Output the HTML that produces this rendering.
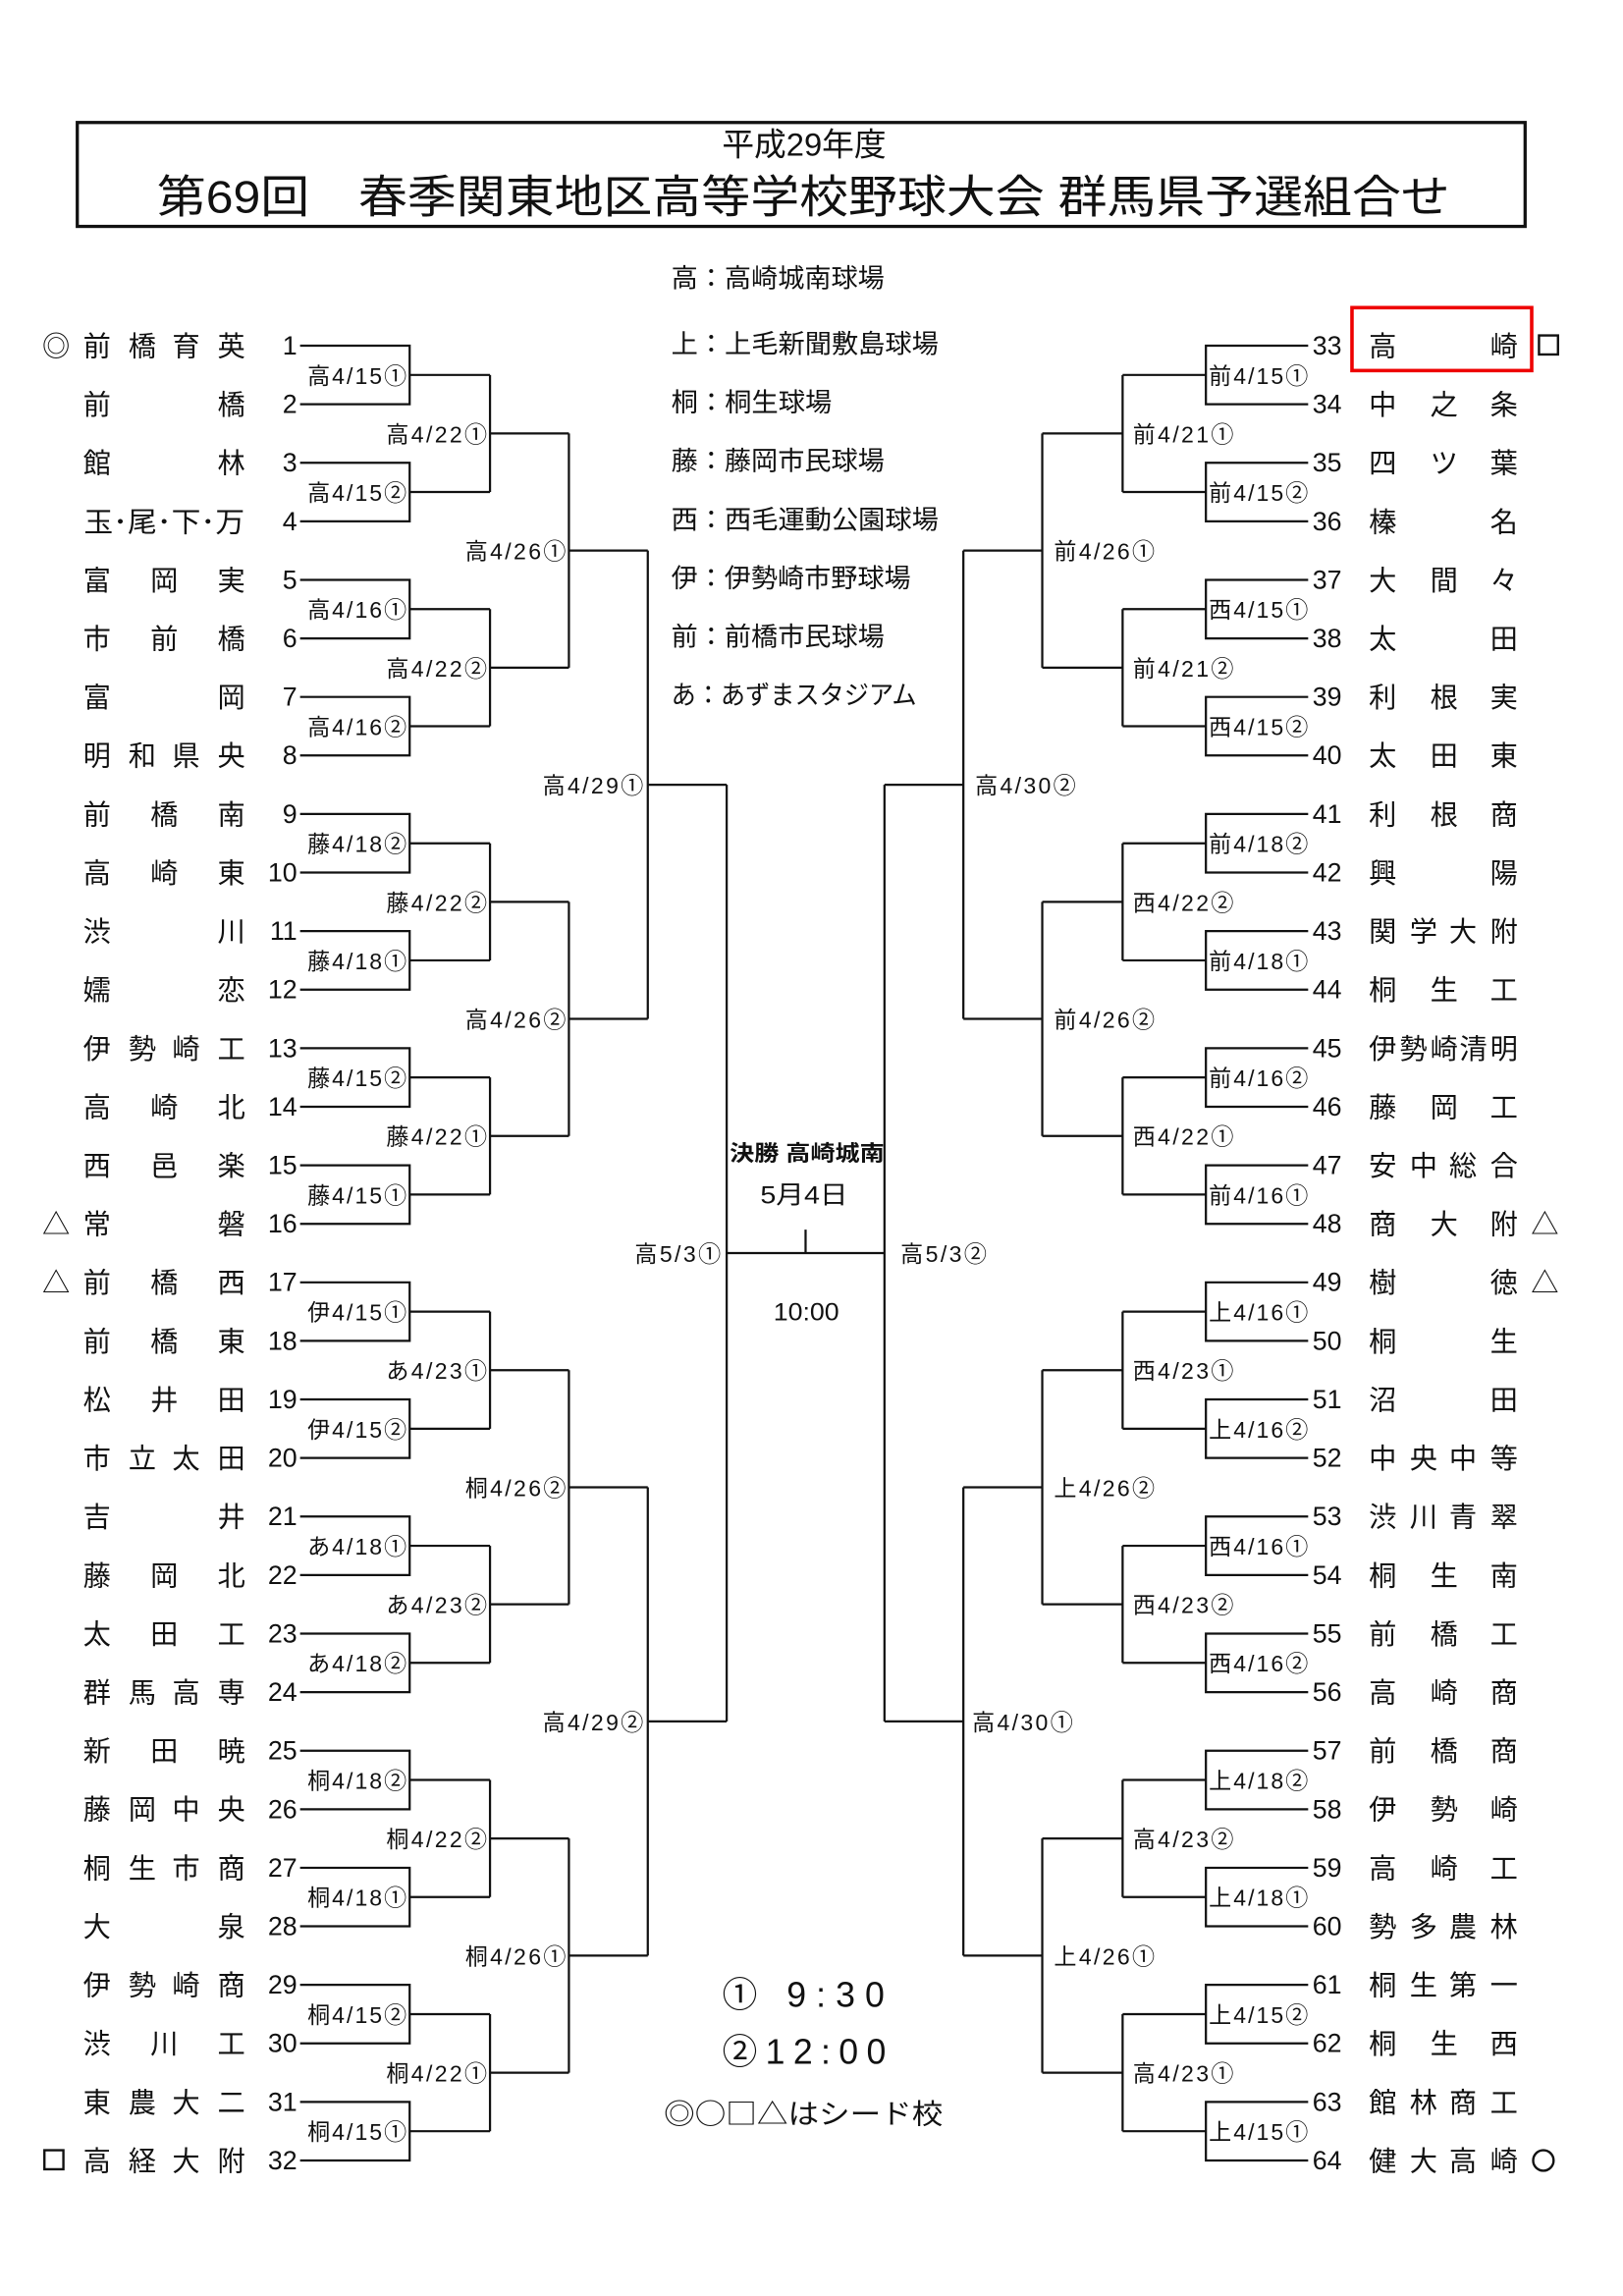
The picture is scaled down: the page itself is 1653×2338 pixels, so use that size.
<!DOCTYPE html>
<html><head><meta charset="utf-8"><style>
html,body{margin:0;padding:0;background:#fff}
svg{display:block}
text{font-family:"Liberation Sans","Noto Sans CJK JP",sans-serif;fill:#111}
.nm{font-size:19px}
.mk{font-family:"Noto Sans CJK JP",sans-serif;font-size:19px}
.no{font-size:18px}
.lb{font-size:15.5px}
.vn{font-size:18px}
</style></head><body>
<svg width="1653" height="2338" viewBox="-2.4 -0.2 1110.9 1568.8" preserveAspectRatio="none" xmlns="http://www.w3.org/2000/svg">
<rect x="50.5" y="83.5" width="991" height="71" fill="none" stroke="#111" stroke-width="2.2"/>
<text x="548" y="106" text-anchor="middle" style="font-size:22px">平成29年度</text>
<text x="105" y="145" textLength="885" lengthAdjust="spacingAndGlyphs" style="font-size:31px">第69回　春季関東地区高等学校野球大会 群馬県予選組合せ</text>

<g>
<text x="457" y="196" class="vn" textLength="146" lengthAdjust="spacingAndGlyphs">高：高崎城南球場</text>
<text x="457" y="241" class="vn" textLength="183" lengthAdjust="spacingAndGlyphs">上：上毛新聞敷島球場</text>
<text x="457" y="281" class="vn" textLength="110" lengthAdjust="spacingAndGlyphs">桐：桐生球場</text>
<text x="457" y="321" class="vn" textLength="146" lengthAdjust="spacingAndGlyphs">藤：藤岡市民球場</text>
<text x="457" y="361" class="vn" textLength="183" lengthAdjust="spacingAndGlyphs">西：西毛運動公園球場</text>
<text x="457" y="401" class="vn" textLength="164" lengthAdjust="spacingAndGlyphs">伊：伊勢崎市野球場</text>
<text x="457" y="441" class="vn" textLength="146" lengthAdjust="spacingAndGlyphs">前：前橋市民球場</text>
<text x="457" y="481" class="vn" textLength="168" lengthAdjust="spacingAndGlyphs">あ：あずまスタジアム</text>
</g>

<g fill="none" stroke="#111" stroke-width="1.5">
<path d="M203 236H278V276H203M278 256H333M203 316H278V356H203M278 336H333M203 396H278V436H203M278 416H333M203 476H278V516H203M278 496H333M203 556H278V596H203M278 576H333M203 636H278V676H203M278 656H333M203 716H278V756H203M278 736H333M203 796H278V836H203M278 816H333M203 876H278V916H203M278 896H333M203 956H278V996H203M278 976H333M203 1036H278V1076H203M278 1056H333M203 1116H278V1156H203M278 1136H333M203 1196H278V1236H203M278 1216H333M203 1276H278V1316H203M278 1296H333M203 1356H278V1396H203M278 1376H333M203 1436H278V1476H203M278 1456H333"/>
<path d="M333 256V336M333 296H387M333 416V496M333 456H387M333 576V656M333 616H387M333 736V816M333 776H387M333 896V976M333 936H387M333 1056V1136M333 1096H387M333 1216V1296M333 1256H387M333 1376V1456M333 1416H387"/>
<path d="M387 296V456M387 376H441M387 616V776M387 696H441M387 936V1096M387 1016H441M387 1256V1416M387 1336H441"/>
<path d="M441 376V696M441 536H495M441 1016V1336M441 1176H495M495 536V1176M495 856H603M549 840V856"/>
<path d="M893 236H823V276H893M823 256H766M893 316H823V356H893M823 336H766M893 396H823V436H893M823 416H766M893 476H823V516H893M823 496H766M893 556H823V596H893M823 576H766M893 636H823V676H893M823 656H766M893 716H823V756H893M823 736H766M893 796H823V836H893M823 816H766M893 876H823V916H893M823 896H766M893 956H823V996H893M823 976H766M893 1036H823V1076H893M823 1056H766M893 1116H823V1156H893M823 1136H766M893 1196H823V1236H893M823 1216H766M893 1276H823V1316H893M823 1296H766M893 1356H823V1396H893M823 1376H766M893 1436H823V1476H893M823 1456H766"/>
<path d="M766 256V336M766 296H711M766 416V496M766 456H711M766 576V656M766 616H711M766 736V816M766 776H711M766 896V976M766 936H711M766 1056V1136M766 1096H711M766 1216V1296M766 1256H711M766 1376V1456M766 1416H711"/>
<path d="M711 296V456M711 376H657M711 616V776M711 696H657M711 936V1096M711 1016H657M711 1256V1416M711 1336H657"/>
<path d="M657 376V696M657 536H603M657 1016V1336M657 1176H603M603 536V1176"/>
</g>
<rect x="923" y="210" width="123" height="43" fill="none" stroke="#e00" stroke-width="2.4"/>

<!-- left names -->
<g class="nm" text-anchor="middle">
<text x="64 95 125 156" y="243">前橋育英</text>
<text x="64 156" y="283">前橋</text>
<text x="64 156" y="323">館林</text>
<text x="55" y="363" text-anchor="start" textLength="110" lengthAdjust="spacingAndGlyphs">玉･尾･下･万</text>
<text x="64 110 156" y="403">富岡実</text>
<text x="64 110 156" y="443">市前橋</text>
<text x="64 156" y="483">富岡</text>
<text x="64 95 125 156" y="523">明和県央</text>
<text x="64 110 156" y="563">前橋南</text>
<text x="64 110 156" y="603">高崎東</text>
<text x="64 156" y="643">渋川</text>
<text x="64 156" y="683">嬬恋</text>
<text x="64 95 125 156" y="723">伊勢崎工</text>
<text x="64 110 156" y="763">高崎北</text>
<text x="64 110 156" y="803">西邑楽</text>
<text x="64 156" y="843">常磐</text>
<text x="64 110 156" y="883">前橋西</text>
<text x="64 110 156" y="923">前橋東</text>
<text x="64 110 156" y="963">松井田</text>
<text x="64 95 125 156" y="1003">市立太田</text>
<text x="64 156" y="1043">吉井</text>
<text x="64 110 156" y="1083">藤岡北</text>
<text x="64 110 156" y="1123">太田工</text>
<text x="64 95 125 156" y="1163">群馬高専</text>
<text x="64 110 156" y="1203">新田暁</text>
<text x="64 95 125 156" y="1243">藤岡中央</text>
<text x="64 95 125 156" y="1283">桐生市商</text>
<text x="64 156" y="1323">大泉</text>
<text x="64 95 125 156" y="1363">伊勢崎商</text>
<text x="64 110 156" y="1403">渋川工</text>
<text x="64 95 125 156" y="1443">東農大二</text>
<text x="64 95 125 156" y="1483">高経大附</text>
</g>
<g class="mk" text-anchor="middle">
<text x="36" y="243">◎</text>
<text x="36" y="843">△</text>
<text x="36" y="883">△</text>
<text x="1055" y="843">△</text>
<text x="1055" y="883">△</text>
</g>
<g fill="none" stroke="#111" stroke-width="1.6">
<rect x="28" y="1469" width="13" height="13"/>
<rect x="1051" y="229" width="13" height="13"/>
<circle cx="1054" cy="1476" r="7"/>
</g>
<!-- right names -->
<g class="nm" text-anchor="middle">
<text x="944 1027" y="243">高崎</text>
<text x="944 986 1027" y="283">中之条</text>
<text x="944 986 1027" y="323">四ツ葉</text>
<text x="944 1027" y="363">榛名</text>
<text x="944 986 1027" y="403">大間々</text>
<text x="944 1027" y="443">太田</text>
<text x="944 986 1027" y="483">利根実</text>
<text x="944 986 1027" y="523">太田東</text>
<text x="944 986 1027" y="563">利根商</text>
<text x="944 1027" y="603">興陽</text>
<text x="944 972 999 1027" y="643">関学大附</text>
<text x="944 986 1027" y="683">桐生工</text>
<text x="944 965 986 1006 1027" y="723">伊勢崎清明</text>
<text x="944 986 1027" y="763">藤岡工</text>
<text x="944 972 999 1027" y="803">安中総合</text>
<text x="944 986 1027" y="843">商大附</text>
<text x="944 1027" y="883">樹徳</text>
<text x="944 1027" y="923">桐生</text>
<text x="944 1027" y="963">沼田</text>
<text x="944 972 999 1027" y="1003">中央中等</text>
<text x="944 972 999 1027" y="1043">渋川青翠</text>
<text x="944 986 1027" y="1083">桐生南</text>
<text x="944 986 1027" y="1123">前橋工</text>
<text x="944 986 1027" y="1163">高崎商</text>
<text x="944 986 1027" y="1203">前橋商</text>
<text x="944 986 1027" y="1243">伊勢崎</text>
<text x="944 986 1027" y="1283">高崎工</text>
<text x="944 972 999 1027" y="1323">勢多農林</text>
<text x="944 972 999 1027" y="1363">桐生第一</text>
<text x="944 986 1027" y="1403">桐生西</text>
<text x="944 972 999 1027" y="1443">館林商工</text>
<text x="944 972 999 1027" y="1483">健大高崎</text>
</g>
<!-- numbers -->
<g class="no" text-anchor="end">
<text x="201" y="242">1</text><text x="201" y="282">2</text><text x="201" y="322">3</text><text x="201" y="362">4</text>
<text x="201" y="402">5</text><text x="201" y="442">6</text><text x="201" y="482">7</text><text x="201" y="522">8</text>
<text x="201" y="562">9</text><text x="201" y="602">10</text><text x="201" y="642">11</text><text x="201" y="682">12</text>
<text x="201" y="722">13</text><text x="201" y="762">14</text><text x="201" y="802">15</text><text x="201" y="842">16</text>
<text x="201" y="882">17</text><text x="201" y="922">18</text><text x="201" y="962">19</text><text x="201" y="1002">20</text>
<text x="201" y="1042">21</text><text x="201" y="1082">22</text><text x="201" y="1122">23</text><text x="201" y="1162">24</text>
<text x="201" y="1202">25</text><text x="201" y="1242">26</text><text x="201" y="1282">27</text><text x="201" y="1322">28</text>
<text x="201" y="1362">29</text><text x="201" y="1402">30</text><text x="201" y="1442">31</text><text x="201" y="1482">32</text>
</g>
<g class="no" text-anchor="start">
<text x="896" y="242">33</text><text x="896" y="282">34</text><text x="896" y="322">35</text><text x="896" y="362">36</text>
<text x="896" y="402">37</text><text x="896" y="442">38</text><text x="896" y="482">39</text><text x="896" y="522">40</text>
<text x="896" y="562">41</text><text x="896" y="602">42</text><text x="896" y="642">43</text><text x="896" y="682">44</text>
<text x="896" y="722">45</text><text x="896" y="762">46</text><text x="896" y="802">47</text><text x="896" y="842">48</text>
<text x="896" y="882">49</text><text x="896" y="922">50</text><text x="896" y="962">51</text><text x="896" y="1002">52</text>
<text x="896" y="1042">53</text><text x="896" y="1082">54</text><text x="896" y="1122">55</text><text x="896" y="1162">56</text>
<text x="896" y="1202">57</text><text x="896" y="1242">58</text><text x="896" y="1282">59</text><text x="896" y="1322">60</text>
<text x="896" y="1362">61</text><text x="896" y="1402">62</text><text x="896" y="1442">63</text><text x="896" y="1482">64</text>
</g>
<!-- left labels -->
<g class="lb" text-anchor="end">
<text x="276" y="262" textLength="68">高4/15①</text><text x="276" y="342" textLength="68">高4/15②</text><text x="276" y="422" textLength="68">高4/16①</text><text x="276" y="502" textLength="68">高4/16②</text>
<text x="276" y="582" textLength="68">藤4/18②</text><text x="276" y="662" textLength="68">藤4/18①</text><text x="276" y="742" textLength="68">藤4/15②</text><text x="276" y="822" textLength="68">藤4/15①</text>
<text x="276" y="902" textLength="68">伊4/15①</text><text x="276" y="982" textLength="68">伊4/15②</text><text x="276" y="1062" textLength="68">あ4/18①</text><text x="276" y="1142" textLength="68">あ4/18②</text>
<text x="276" y="1222" textLength="68">桐4/18②</text><text x="276" y="1302" textLength="68">桐4/18①</text><text x="276" y="1382" textLength="68">桐4/15②</text><text x="276" y="1462" textLength="68">桐4/15①</text>
<text x="331" y="302" textLength="69">高4/22①</text><text x="331" y="462" textLength="69">高4/22②</text><text x="331" y="622" textLength="69">藤4/22②</text><text x="331" y="782" textLength="69">藤4/22①</text>
<text x="331" y="942" textLength="69">あ4/23①</text><text x="331" y="1102" textLength="69">あ4/23②</text><text x="331" y="1262" textLength="69">桐4/22②</text><text x="331" y="1422" textLength="69">桐4/22①</text>
<text x="385" y="382" textLength="69">高4/26①</text><text x="385" y="702" textLength="69">高4/26②</text><text x="385" y="1022" textLength="69">桐4/26②</text><text x="385" y="1342" textLength="69">桐4/26①</text>
<text x="438" y="542" textLength="69">高4/29①</text><text x="438" y="1182" textLength="69">高4/29②</text>
<text x="491" y="862" textLength="59">高5/3①</text>
</g>
<g class="lb" text-anchor="start">
<text x="825" y="262" textLength="68">前4/15①</text><text x="825" y="342" textLength="68">前4/15②</text><text x="825" y="422" textLength="68">西4/15①</text><text x="825" y="502" textLength="68">西4/15②</text>
<text x="825" y="582" textLength="68">前4/18②</text><text x="825" y="662" textLength="68">前4/18①</text><text x="825" y="742" textLength="68">前4/16②</text><text x="825" y="822" textLength="68">前4/16①</text>
<text x="825" y="902" textLength="68">上4/16①</text><text x="825" y="982" textLength="68">上4/16②</text><text x="825" y="1062" textLength="68">西4/16①</text><text x="825" y="1142" textLength="68">西4/16②</text>
<text x="825" y="1222" textLength="68">上4/18②</text><text x="825" y="1302" textLength="68">上4/18①</text><text x="825" y="1382" textLength="68">上4/15②</text><text x="825" y="1462" textLength="68">上4/15①</text>
<text x="773" y="302" textLength="69">前4/21①</text><text x="773" y="462" textLength="69">前4/21②</text><text x="773" y="622" textLength="69">西4/22②</text><text x="773" y="782" textLength="69">西4/22①</text>
<text x="773" y="942" textLength="69">西4/23①</text><text x="773" y="1102" textLength="69">西4/23②</text><text x="773" y="1262" textLength="69">高4/23②</text><text x="773" y="1422" textLength="69">高4/23①</text>
<text x="719" y="382" textLength="69">前4/26①</text><text x="719" y="702" textLength="69">前4/26②</text><text x="719" y="1022" textLength="69">上4/26②</text><text x="719" y="1342" textLength="69">上4/26①</text>
<text x="665" y="542" textLength="69">高4/30②</text><text x="663" y="1182" textLength="69">高4/30①</text>
<text x="614" y="862" textLength="59">高5/3②</text>
</g>
<g>
<text x="497" y="793" textLength="106" lengthAdjust="spacingAndGlyphs" style="font-size:15px;font-weight:bold">決勝 高崎城南</text>
<text x="518" y="822" textLength="60" lengthAdjust="spacingAndGlyphs" style="font-size:17px">5月4日</text>
<text x="527" y="902" textLength="45" lengthAdjust="spacingAndGlyphs" style="font-size:17px">10:00</text>
<text x="492" y="1371" textLength="111" lengthAdjust="spacing" style="font-size:24px">① 9:30</text>
<text x="492" y="1410" textLength="112" lengthAdjust="spacing" style="font-size:24px">②12:00</text>
<text x="452" y="1451" textLength="191" lengthAdjust="spacingAndGlyphs" style="font-size:19px;font-family:'Noto Sans CJK JP',sans-serif">◎○□△はシード校</text>
</g>
</svg>
</body></html>
